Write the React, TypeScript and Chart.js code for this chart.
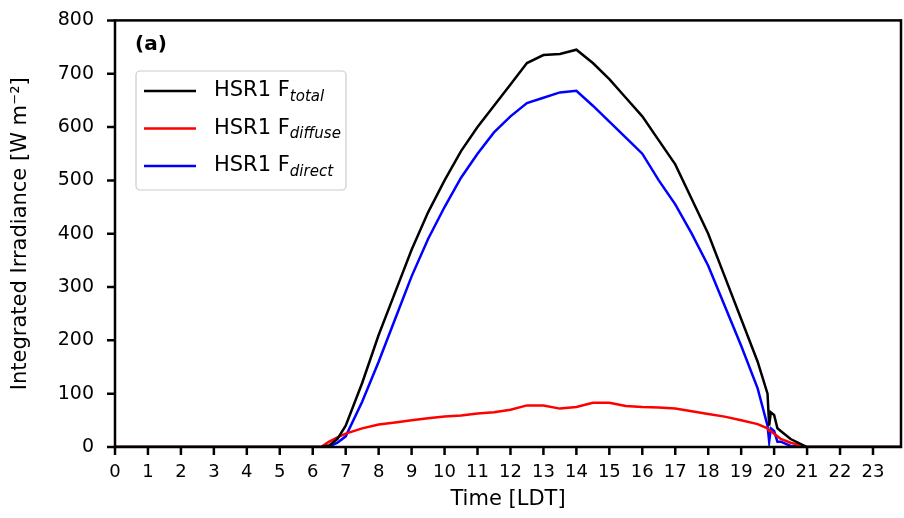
import React, { useEffect, useRef } from 'react';
import { Chart } from 'chart.js/auto';

const times = [0, 6, 6.25, 6.5, 6.75, 7, 7.5, 8, 8.5, 9, 9.5, 10, 10.5, 11, 11.5, 12, 12.5, 13, 13.5, 14, 14.5, 15, 15.5, 16, 16.5, 17, 17.5, 18, 18.5, 19, 19.5, 19.8, 19.85, 19.9, 20, 20.1, 20.2, 20.5, 21, 24];
const total = [0, 0, 0, 3, 15, 40, 120, 210, 290, 370, 440, 500, 555, 600, 640, 680, 720, 735, 737, 745, 720, 690, 655, 620, 575, 530, 465, 400, 320, 240, 160, 100, 40, 65, 60, 35, 30, 15, 0, 0];
const direct = [0, 0, 0, 1, 8, 20, 85, 160, 240, 320, 390, 450, 505, 550, 590, 620, 645, 655, 665, 668, 640, 610, 580, 550, 500, 455, 400, 340, 265, 190, 110, 40, 10, 35, 30, 10, 10, 2, 0, 0];
const diffuse = [0, 0, 0, 10, 18, 25, 35, 42, 46, 50, 54, 57, 59, 63, 65, 70, 78, 78, 72, 75, 83, 83, 77, 75, 74, 72, 67, 62, 57, 50, 43, 35, 30, 30, 25, 20, 15, 8, 0, 0];
const hourTicks = Array.from({ length: 24 }, (_, i) => i);
const yTicks = [0, 100, 200, 300, 400, 500, 600, 700, 800];

const legendItems = [
  { color: '#000000', sub: 'total' },
  { color: '#ff0000', sub: 'diffuse' },
  { color: '#0000ff', sub: 'direct' },
];

const FONT = '"DejaVu Sans", sans-serif';
const SHIFT = 4; // canvas is drawn 4px above the page top

const overlay = {
  id: 'overlay',
  afterDraw(chart: any) {
    const { ctx, chartArea: a, scales } = chart;
    ctx.save();
    ctx.strokeStyle = '#000';
    ctx.lineWidth = 2.5;
    ctx.strokeRect(a.left, a.top, a.right - a.left, a.bottom - a.top);
    ctx.beginPath();
    hourTicks.forEach(v => { const x = scales.x.getPixelForValue(v); ctx.moveTo(x, a.bottom); ctx.lineTo(x, a.bottom + 8); });
    yTicks.forEach(v => { const y = scales.y.getPixelForValue(v); ctx.moveTo(a.left, y); ctx.lineTo(a.left - 8, y); });
    ctx.stroke();
    ctx.translate(0, SHIFT);
    ctx.fillStyle = '#000';
    ctx.font = `bold 20px ${FONT}`;
    ctx.textBaseline = 'middle';
    ctx.fillText('(a)', 135, 45);
    // legend box
    ctx.fillStyle = 'rgba(255,255,255,0.85)';
    ctx.strokeStyle = '#cccccc';
    ctx.lineWidth = 1.2;
    ctx.beginPath();
    ctx.roundRect(136, 71, 210, 119, 4);
    ctx.fill();
    ctx.stroke();
    legendItems.forEach((it, i) => {
      const y = 91 + i * 37.5;
      ctx.strokeStyle = it.color;
      ctx.lineWidth = 2.5;
      ctx.beginPath();
      ctx.moveTo(144, y);
      ctx.lineTo(196, y);
      ctx.stroke();
      ctx.fillStyle = '#000';
      ctx.font = `21px ${FONT}`;
      const main = 'HSR1 F';
      ctx.fillText(main, 214, y);
      const w = ctx.measureText(main).width;
      ctx.font = `italic 15px ${FONT}`;
      ctx.fillText(it.sub, 214 + w, y + 6);
    });
    ctx.restore();
  },
};

export default function App() {
  const ref = useRef<HTMLCanvasElement>(null);
  useEffect(() => {
    document.body.style.margin = '0';
    if (!ref.current) return;
    const mk = (d: number[], c: string) => ({
      data: d.map((v, i) => ({ x: times[i], y: v })),
      borderColor: c, borderWidth: 2.5, pointRadius: 0, tension: 0,
    });
    const chart = new Chart(ref.current, {
      type: 'line',
      data: { datasets: [mk(total, '#000000'), mk(diffuse, '#ff0000'), mk(direct, '#0000ff')] },
      options: {
        animation: false, responsive: false,
        layout: { padding: { top: 15, right: 3, left: 4, bottom: 2 } },
        plugins: { legend: { display: false }, tooltip: { enabled: false } },
        scales: {
          x: {
            type: 'linear', min: 0, max: 23.85,
            afterBuildTicks: (s: any) => { s.ticks = hourTicks.map(v => ({ value: v })); },
            afterFit: (s: any) => { s.height = 69; },
            grid: { display: false },
            border: { display: false },
            ticks: { color: '#000', font: { family: FONT, size: 18 }, maxRotation: 0, autoSkip: false, padding: 7 },
            title: { display: true, text: 'Time [LDT]', color: '#000', font: { family: FONT, size: 21 }, padding: { top: 0 } },
          },
          y: {
            min: 0, max: 800,
            afterFit: (s: any) => { s.width = 111; },
            grid: { display: false },
            border: { display: false },
            ticks: { stepSize: 100, color: '#000', font: { family: FONT, size: 19 }, padding: 13 },
            title: { display: true, text: 'Integrated Irradiance [W m⁻²]', color: '#000', font: { family: FONT, size: 21 }, padding: { bottom: 0 } },
          },
        },
      },
      plugins: [overlay],
    });
    return () => chart.destroy();
  }, []);
  return <canvas ref={ref} width={904} height={518 + SHIFT} style={{ display: 'block', marginTop: -SHIFT }} />;
}
